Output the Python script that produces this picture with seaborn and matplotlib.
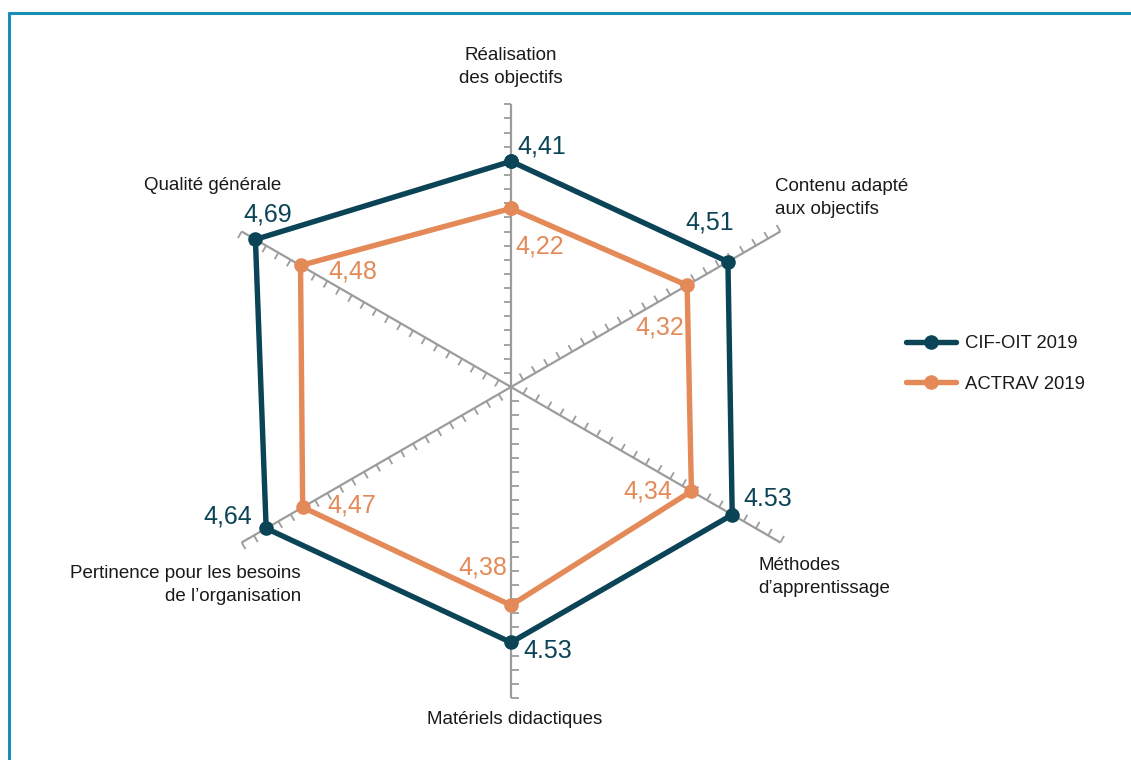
import numpy as np
import pandas as pd
import matplotlib
matplotlib.use("Agg")
import matplotlib.pyplot as plt
import seaborn as sns
from matplotlib.lines import Line2D

# ---------------- data ----------------
categories = ["Réalisation\ndes objectifs", "Contenu adapté\naux objectifs",
              "Méthodes\nd’apprentissage", "Matériels didactiques",
              "Pertinence pour les besoins\nde l’organisation", "Qualité générale"]
series_names = ["CIF-OIT 2019", "ACTRAV 2019"]
cif_values = [4.41, 4.51, 4.53, 4.53, 4.64, 4.69]
actrav_values = [4.22, 4.32, 4.34, 4.38, 4.47, 4.48]
cif_labels = ["4,41", "4,51", "4.53", "4.53", "4,64", "4,69"]
actrav_labels = ["4,22", "4,32", "4,34", "4,38", "4,47", "4,48"]
r_min = 3.5          # value at the centre
tick_step = 0.057    # value spacing of the axis ticks

# ---------------- style ----------------
sns.set_theme(style="white")
plt.rcParams["font.family"] = ["Liberation Sans", "DejaVu Sans"]
C_CIF = "#0b4457"
C_ACT = "#e38a58"
C_AXIS = "#9c9c9c"
C_BORDER = "#1a8db5"

W, H, DPI = 1131, 760, 100
PX = 248.0            # pixels per value unit
CX, CY = 511, 387     # centre in pixels (from top-left)

fig = plt.figure(figsize=(W / DPI, H / DPI), dpi=DPI)
ax = fig.add_axes([0, 0, 1, 1])
ax.set_xlim(-CX / PX, (W - CX) / PX)
ax.set_ylim(-(H - CY) / PX, CY / PX)
ax.axis("off")

n = len(categories)
angles = np.deg2rad(90 - 60 * np.arange(n))
n_ticks = [20, 22, 22, 22, 22, 22]

# axes with ticks
tick_len = 7.5 / PX
for a, nt in zip(angles, n_ticks):
    L = nt * tick_step
    ax.plot([0, L * np.cos(a)], [0, L * np.sin(a)], color=C_AXIS, lw=1.6,
            zorder=1, solid_capstyle="butt")
    pa = a + np.pi / 2
    for k in range(1, nt + 1):
        r = k * tick_step
        x0, y0 = r * np.cos(a), r * np.sin(a)
        ax.plot([x0, x0 + tick_len * np.cos(pa)], [y0, y0 + tick_len * np.sin(pa)],
                color=C_AXIS, lw=1.3, zorder=1, solid_capstyle="butt")

# series
def polygon_df(values, name):
    r = np.array(values) - r_min
    x = r * np.cos(angles)
    y = r * np.sin(angles)
    x = np.append(x, x[0])
    y = np.append(y, y[0])
    return pd.DataFrame({"x": x, "y": y, "series": name})

for vals, name, col in [(cif_values, series_names[0], C_CIF),
                        (actrav_values, series_names[1], C_ACT)]:
    df = polygon_df(vals, name)
    sns.lineplot(data=df, x="x", y="y", sort=False, estimator=None, ax=ax,
                 color=col, lw=3.9, marker="o", markersize=10.5,
                 markeredgewidth=0, label=name, zorder=3,
                 solid_joinstyle="miter")

# value labels (offsets in pixels, anchor)
cif_off = [((6, 15), "left"), ((6, 39), "right"), ((11, 16), "left"),
           ((12, -9), "left"), ((-14, 12), "right"), ((-12, 25), "left")]
act_off = [((4, -38), "left"), ((-3, -42), "right"), ((-19, 0), "right"),
           ((-4, 38), "right"), ((25, 2), "left"), ((28, -6), "left")]
for vals, labs, offs, col in [(cif_values, cif_labels, cif_off, C_CIF),
                              (actrav_values, actrav_labels, act_off, C_ACT)]:
    for v, lab, a, (off, ha) in zip(vals, labs, angles, offs):
        r = v - r_min
        ax.annotate(lab, (r * np.cos(a), r * np.sin(a)), xytext=off,
                    textcoords="offset pixels", ha=ha, va="center",
                    color=col, fontsize=18, zorder=4)

# category labels (pixel positions)
cat_pos = [((511, 67), "center"), ((775, 198), "left"), ((758, 577), "left"),
           ((515, 720), "center"), ((301, 585), "right"), ((281, 185), "right")]
for cat, ((px, py), ha) in zip(categories, cat_pos):
    fig.text(px / W, 1 - py / H, cat, ha=ha, va="center", multialignment=ha,
             fontsize=13.5, color="#1a1a1a", linespacing=1.4)

# legend
handles, labels = ax.get_legend_handles_labels()
leg = ax.legend(handles, labels, loc="center left",
                bbox_to_anchor=(906 / W, 1 - 364 / H), bbox_transform=fig.transFigure,
                frameon=False, fontsize=13.3, handlelength=2.7, handletextpad=0.5,
                labelspacing=1.25, borderpad=0, borderaxespad=0)
for t in leg.get_texts():
    t.set_color("#1a1a1a")

# border (top and left)
fig.add_artist(Line2D([9 / W, 1], [1 - 13 / H, 1 - 13 / H], color=C_BORDER, lw=2.2,
                      transform=fig.transFigure))
fig.add_artist(Line2D([9 / W, 9 / W], [0, 1 - 13 / H], color=C_BORDER, lw=2.2,
                      transform=fig.transFigure))

fig.savefig("out.png", dpi=DPI)
